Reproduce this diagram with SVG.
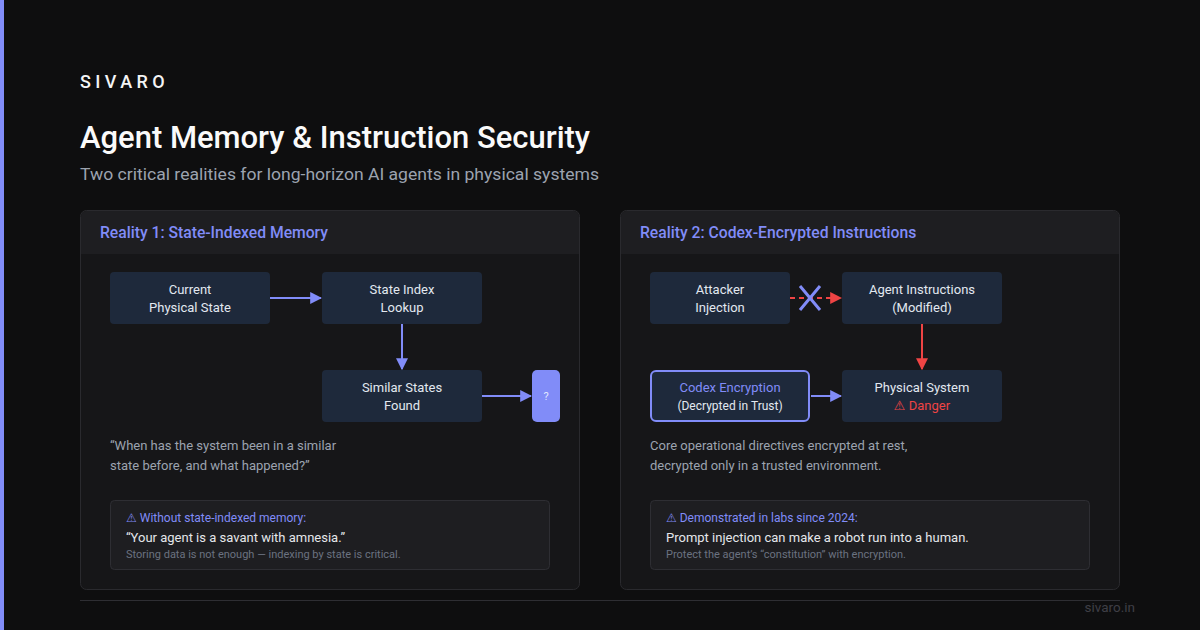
<svg xmlns="http://www.w3.org/2000/svg" width="1200" height="630" viewBox="0 0 1200 630">
<defs>
<marker id="ab" viewBox="0 0 10 10" refX="9" refY="5" markerWidth="12" markerHeight="12" markerUnits="userSpaceOnUse" orient="auto"><path d="M0,0 L10,5 L0,10 Z" fill="#818cf8"/></marker>
<marker id="ar" viewBox="0 0 10 10" refX="9" refY="5" markerWidth="12" markerHeight="12" markerUnits="userSpaceOnUse" orient="auto"><path d="M0,0 L10,5 L0,10 Z" fill="#ef4444"/></marker>
<style>
text{font-family:Roboto,"Liberation Sans",sans-serif}
.w{font-family:"DejaVu Sans",sans-serif;font-size:1em}
.panel{fill:#161618;stroke:#2a2a2e;stroke-width:1}
.hdr{fill:#1e1e21}
.htxt{fill:#818cf8;font-size:15.7px;font-weight:500}
.node{fill:#1e293b}
.nt{fill:#e2e8f0;font-size:13px;text-anchor:middle}
.body{fill:#9ca3af;font-size:13px}
.call{fill:#1e1e21;stroke:#2e2e33;stroke-width:1}
.c1{fill:#818cf8;font-size:12px}
.c2{fill:#e5e7eb;font-size:13px}
.c3{fill:#6b7280;font-size:11px}
</style>
</defs>
<rect width="1200" height="630" fill="#0e0e0f"/>
<rect x="0" y="0" width="4" height="630" fill="#818cf8"/>
<text x="80" y="88" fill="#f4f4f5" font-size="18" font-weight="500" letter-spacing="4.4">SIVARO</text>
<text x="80" y="148" fill="#fafafa" font-size="32" font-weight="500" textLength="510" lengthAdjust="spacingAndGlyphs">Agent Memory &amp; Instruction Security</text>
<text x="80" y="180" fill="#9ca3af" font-size="17" textLength="519" lengthAdjust="spacingAndGlyphs">Two critical realities for long-horizon AI agents in physical systems</text>

<g id="panel1">
<rect class="panel" x="80.5" y="210.5" width="499" height="379" rx="6"/>
<path class="hdr" d="M81,254 V216.5 a5.5,5.5 0 0 1 5.5,-5.5 H573.5 a5.5,5.5 0 0 1 5.5,5.5 V254 Z"/>
<text class="htxt" x="100" y="238">Reality 1: State-Indexed Memory</text>
</g>
<g id="panel2">
<rect class="panel" x="620.5" y="210.5" width="499" height="379" rx="6"/>
<path class="hdr" d="M621,254 V216.5 a5.5,5.5 0 0 1 5.5,-5.5 H1113.5 a5.5,5.5 0 0 1 5.5,5.5 V254 Z"/>
<text class="htxt" x="640" y="238">Reality 2: Codex-Encrypted Instructions</text>
</g>

<g id="connectors">
<line x1="270" y1="298" x2="321" y2="298" stroke="#818cf8" stroke-width="2" marker-end="url(#ab)"/>
<line x1="402" y1="324" x2="402" y2="369" stroke="#818cf8" stroke-width="2" marker-end="url(#ab)"/>
<line x1="482" y1="396" x2="531" y2="396" stroke="#818cf8" stroke-width="2" marker-end="url(#ab)"/>
<line x1="790" y1="298" x2="841" y2="298" stroke="#ef4444" stroke-width="2" stroke-dasharray="5,4" marker-end="url(#ar)"/>
<line x1="922" y1="324" x2="922" y2="369" stroke="#ef4444" stroke-width="2" marker-end="url(#ar)"/>
<line x1="811" y1="396" x2="841" y2="396" stroke="#818cf8" stroke-width="2" marker-end="url(#ab)"/>
<path d="M800,286 L820,310 M820,286 L800,310" stroke="#818cf8" stroke-width="3" fill="none"/>
</g>

<g id="n-current">
<rect class="node" x="110" y="272" width="160" height="52" rx="4"/>
<text class="nt" x="190" y="294">Current</text>
<text class="nt" x="190" y="312">Physical State</text>
</g>
<g id="n-index">
<rect class="node" x="322" y="272" width="160" height="52" rx="4"/>
<text class="nt" x="402" y="294">State Index</text>
<text class="nt" x="402" y="312">Lookup</text>
</g>
<g id="n-similar">
<rect class="node" x="322" y="370" width="160" height="52" rx="4"/>
<text class="nt" x="402" y="392">Similar States</text>
<text class="nt" x="402" y="410">Found</text>
</g>
<g id="n-q">
<rect x="532" y="370" width="28" height="52" rx="5" fill="#818cf8"/>
<text x="546" y="400" fill="#e0e7ff" font-size="11" text-anchor="middle">?</text>
</g>

<g id="n-attacker">
<rect class="node" x="650" y="272" width="140" height="52" rx="4"/>
<text class="nt" x="720" y="294">Attacker</text>
<text class="nt" x="720" y="312">Injection</text>
</g>
<g id="n-agent">
<rect class="node" x="842" y="272" width="160" height="52" rx="4"/>
<text class="nt" x="922" y="294">Agent Instructions</text>
<text class="nt" x="922" y="312">(Modified)</text>
</g>
<g id="n-codex">
<rect x="651" y="371" width="158" height="50" rx="5" fill="#1e293b" stroke="#818cf8" stroke-width="2"/>
<text class="nt" x="730" y="392" style="fill:#818cf8">Codex Encryption</text>
<text class="nt" x="730" y="410" style="font-size:12px">(Decrypted in Trust)</text>
</g>
<g id="n-physical">
<rect class="node" x="842" y="370" width="160" height="52" rx="4"/>
<text class="nt" x="922" y="392">Physical System</text>
<text class="nt" x="922" y="410" style="fill:#ef4444"><tspan class="w">⚠︎</tspan> Danger</text>
</g>

<text class="body" x="110" y="450">“When has the system been in a similar</text>
<text class="body" x="110" y="470">state before, and what happened?”</text>
<text class="body" x="650" y="450">Core operational directives encrypted at rest,</text>
<text class="body" x="650" y="470">decrypted only in a trusted environment.</text>

<g id="callout1">
<rect class="call" x="110.5" y="500.5" width="439" height="69" rx="4"/>
<text class="c1" x="126" y="522"><tspan class="w">⚠︎</tspan> Without state-indexed memory:</text>
<text class="c2" x="126" y="542">“Your agent is a savant with amnesia.”</text>
<text class="c3" x="126" y="558">Storing data is not enough — indexing by state is critical.</text>
</g>
<g id="callout2">
<rect class="call" x="650.5" y="500.5" width="439" height="69" rx="4"/>
<text class="c1" x="666" y="522"><tspan class="w">⚠︎</tspan> Demonstrated in labs since 2024:</text>
<text class="c2" x="666" y="542">Prompt injection can make a robot run into a human.</text>
<text class="c3" x="666" y="558">Protect the agent’s “constitution” with encryption.</text>
</g>

<line x1="80" y1="600.5" x2="1120" y2="600.5" stroke="#2e2e33" stroke-width="1"/>
<text x="1135" y="612" fill="#3f3f46" font-size="13.5" text-anchor="end">sivaro.in</text>
</svg>
